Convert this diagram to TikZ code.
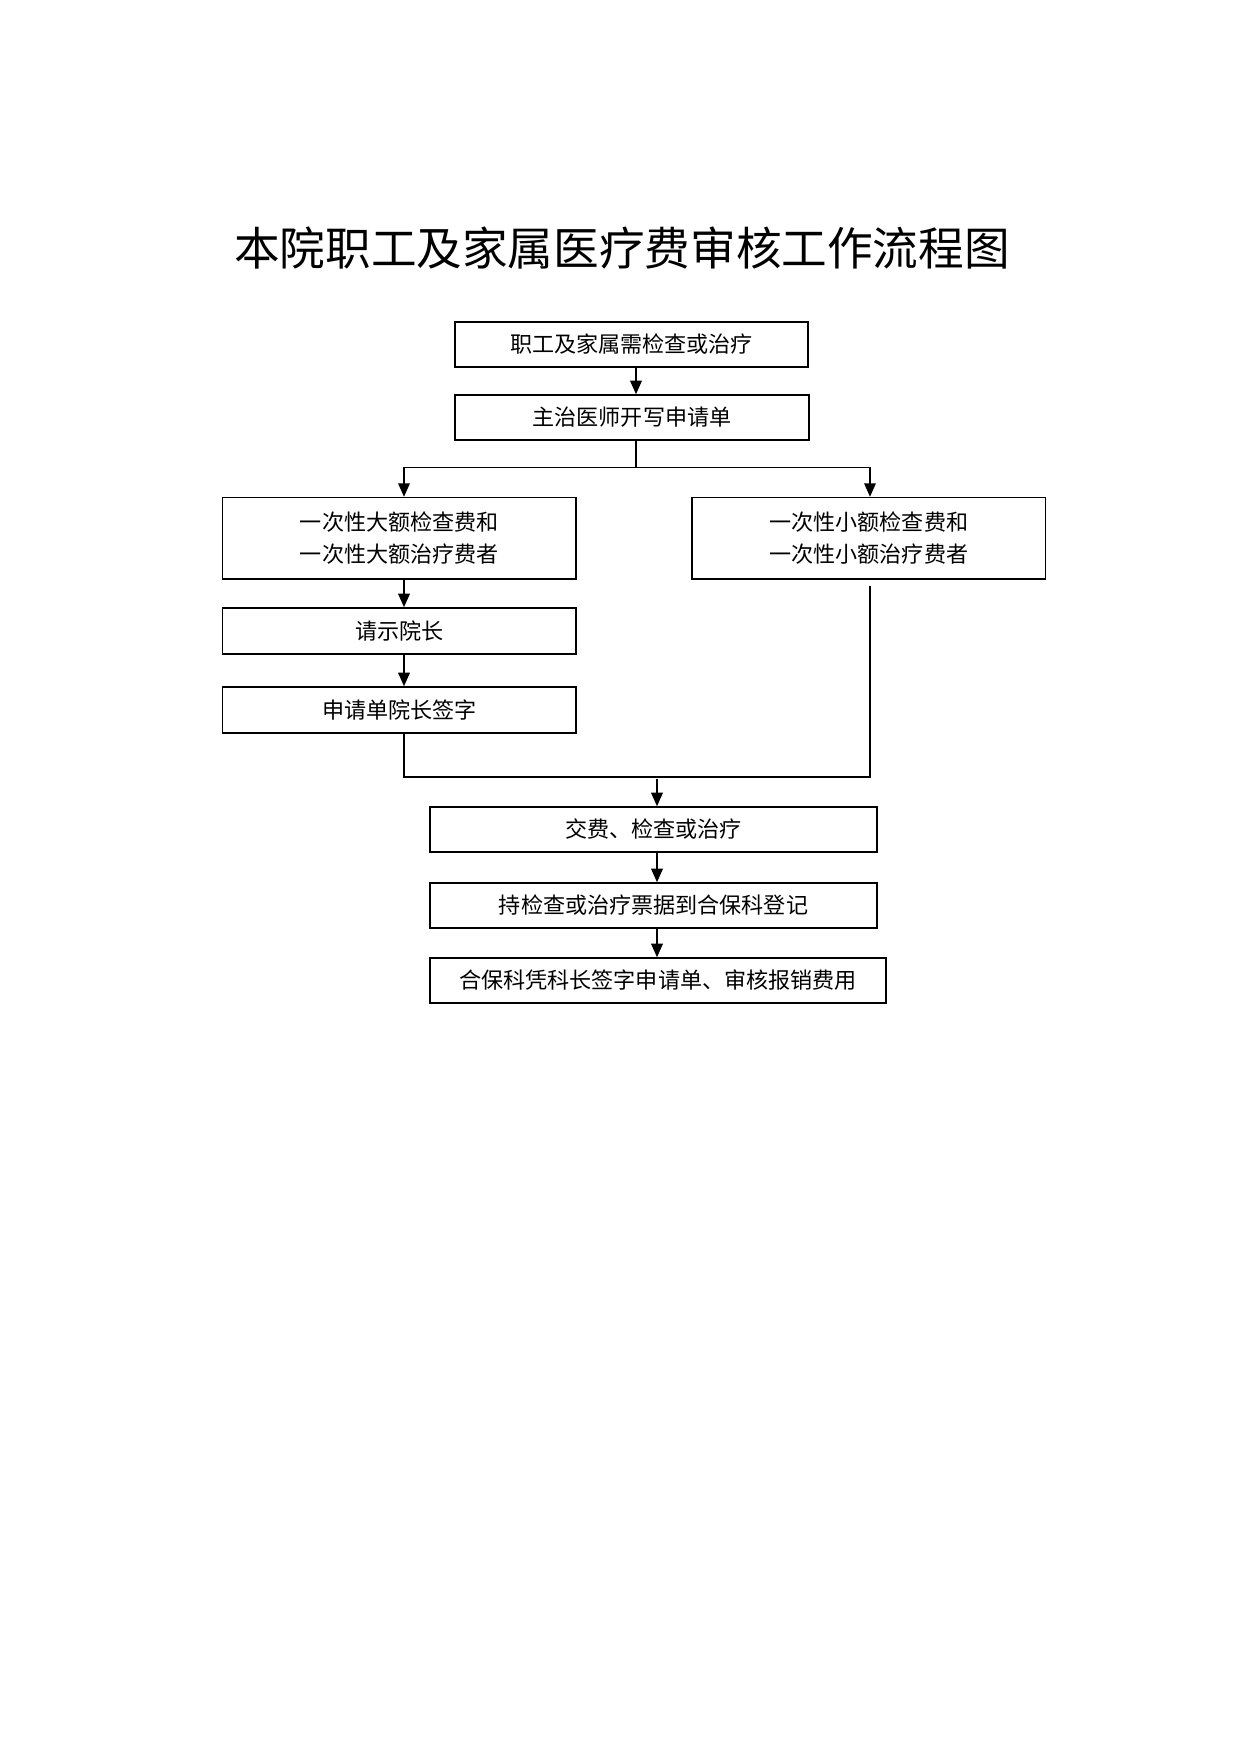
\documentclass[tikz,border=0pt]{standalone}
\usepackage{fontspec}
\setmainfont{Noto Sans CJK SC}
\newfontfamily\cjk{Noto Sans CJK SC}
\usetikzlibrary{arrows.meta}
\tikzset{
  box/.style={draw, line width=0.7pt, inner sep=0pt, minimum height=21.6pt,
    font=\cjk\fontsize{10.6pt}{15.4pt}\selectfont, align=center},
  arr/.style={line width=0.9pt, -{Triangle[length=6.5pt,width=5.5pt]}},
  ln/.style={line width=0.7pt}
}
\begin{document}
\begin{tikzpicture}[x=0.48pt,y=-0.48pt]
\useasboundingbox (0,0) rectangle (1240,1753);
\node[font=\cjk\fontsize{21.9pt}{26pt}\selectfont] (title) at (622,248) {本院职工及家属医疗费审核工作流程图};
\node[box, minimum width=169.4pt] (b1) at (631.5,344.5) {职工及家属需检查或治疗};
\node[box, minimum width=169.9pt] (b2) at (632,417.5) {主治医师开写申请单};
\node[box, minimum width=169.7pt, minimum height=39.1pt] (b3) at (399.3,538.3) {一次性大额检查费和\\一次性大额治疗费者};
\node[box, minimum width=169.7pt, minimum height=39.1pt] (b4) at (868.8,538.3) {一次性小额检查费和\\一次性小额治疗费者};
\node[box, minimum width=169.7pt, minimum height=22.1pt] (b5) at (399.3,631) {请示院长};
\node[box, minimum width=169.7pt, minimum height=22.1pt] (b6) at (399.3,710) {申请单院长签字};
\node[box, minimum width=214.6pt] (b7) at (653.5,829.5) {交费、检查或治疗};
\node[box, minimum width=214.6pt] (b8) at (653.5,905.5) {持检查或治疗票据到合保科登记};
\node[box, minimum width=218.9pt] (b9) at (658,980.5) {合保科凭科长签字申请单、审核报销费用};
\coordinate (split) at (0,467.4);
\coordinate (merge) at (0,777);
\coordinate (cA) at (636,0);
\coordinate (cL) at (404,0);
\coordinate (cR) at (870,0);
\coordinate (cM) at (657,0);
\draw[arr] (b1.south -| cA) -- (b2.north -| cA);
\draw[ln] (b2.south -| cA) -- (split -| cA);
\draw[ln] (split -| cL) -- (split -| cR);
\draw[arr] (split -| cL) -- (b3.north -| cL);
\draw[arr] (split -| cR) -- (b4.north -| cR);
\draw[arr] (b3.south -| cL) -- (b5.north -| cL);
\draw[arr] (b5.south -| cL) -- (b6.north -| cL);
\draw[ln] (b6.south -| cL) -- (merge -| cL) -- (merge -| cR) -- ([yshift=-3pt]b4.south -| cR);
\draw[arr] ([yshift=-1pt]merge -| cM) -- (b7.north -| cM);
\draw[arr] (b7.south -| cM) -- (b8.north -| cM);
\draw[arr] (b8.south -| cM) -- (b9.north -| cM);
\end{tikzpicture}
\end{document}
